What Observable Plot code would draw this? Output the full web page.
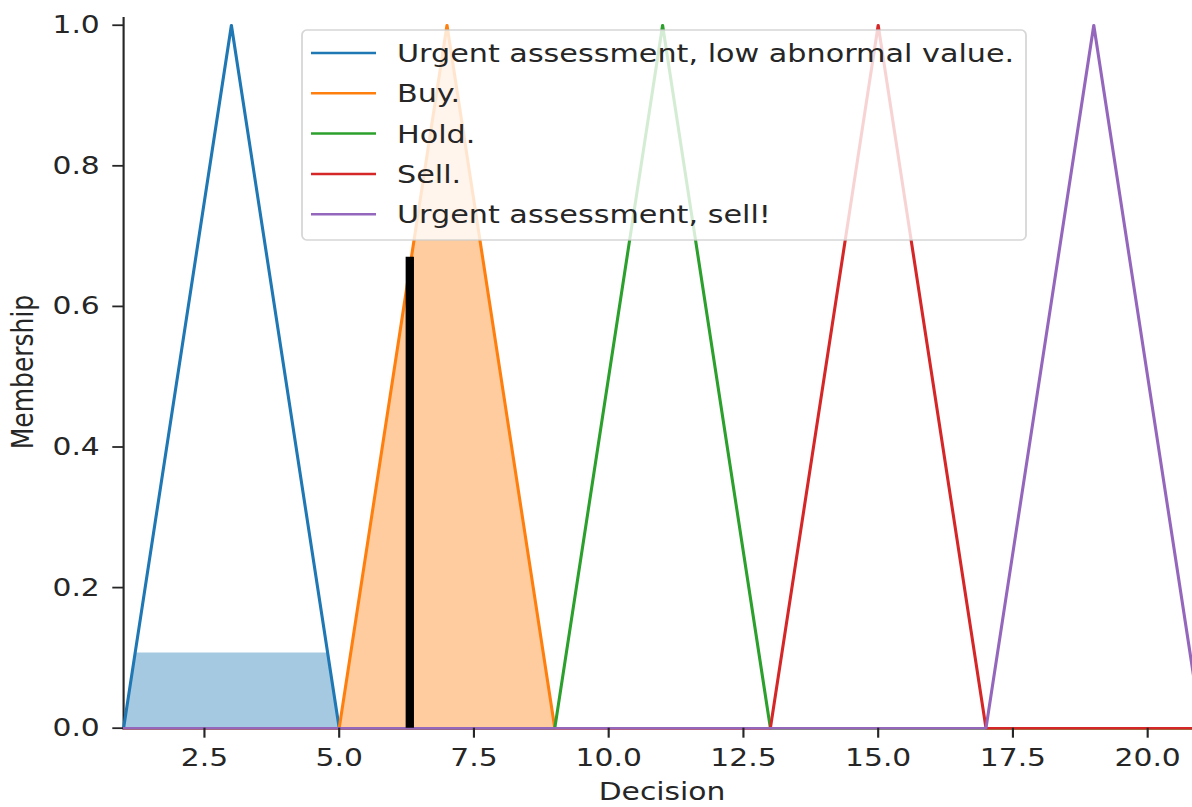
<!DOCTYPE html>
<html>
<head>
<meta charset="utf-8">
<script src="https://cdn.jsdelivr.net/npm/d3@7"></script>
<script src="https://cdn.jsdelivr.net/npm/@observablehq/plot@0.6"></script>
<style>
  html, body { margin: 0; padding: 0; background: white; overflow: hidden; }
  #wrap { position: relative; height: 807px; transform-origin: 0 0; }
  #wrap svg { display: block; }
  .overlay { position: absolute; left: 0; top: 0; pointer-events: none; }
</style>
</head>
<body>
<div id="wrap"></div>
<script>
// ---- data ----
const termNames = [
  "Urgent assessment, low abnormal value.",
  "Buy.",
  "Hold.",
  "Sell.",
  "Urgent assessment, sell!"
];
const termColors = ["#1f77b4", "#ff7f0e", "#2ca02c", "#d62728", "#9467bd"];
const termVertX = [
  [1, 3, 5, 21],
  [1, 5, 7, 9, 21],
  [1, 9, 11, 13, 21],
  [1, 13, 15, 17, 21],
  [1, 17, 19, 21]
];
const termVertY = [
  [0, 1, 0, 0],
  [0, 0, 1, 0, 0],
  [0, 0, 1, 0, 0],
  [0, 0, 1, 0, 0],
  [0, 0, 1, 0]
];
// activated (clipped) regions
const blueFillX = [1, 1.214, 4.786, 5];
const blueFillY = [0, 0.107, 0.107, 0];
const orangeFillX = [5, 7, 9];
const orangeFillY = [0, 1, 0];
// defuzzified crisp output
const crispX = [6.31];
const crispY = [0.67];

const xTicks = [2.5, 5, 7.5, 10, 12.5, 15, 17.5, 20];
const yTicks = [0, 0.2, 0.4, 0.6, 0.8, 1.0];
const xDomain = [1, 21];
const yDomain = [0, 1.011];

// ---- layout ----
const SX = 1.19;               // horizontal stretch of the reference picture
const W = 1192 / SX;
const H = 807;
const left = 123 / SX;
const unit = 53.9 / SX;

const lineData = termNames.flatMap((name, i) =>
  termVertX[i].map((x, j) => ({term: name, x, y: termVertY[i][j]})));
const blueFill = blueFillX.map((x, i) => ({x, y: blueFillY[i]}));
const orangeFill = orangeFillX.map((x, i) => ({x, y: orangeFillY[i]}));
const crisp = crispX.map((x, i) => ({x, y: crispY[i]}));

const ink = "#262626";
const chart = Plot.plot({
  width: W,
  height: H,
  marginLeft: left,
  marginRight: 0,
  marginTop: 17,
  marginBottom: 79.3,
  style: {fontFamily: "DejaVu Sans", fontSize: "25px", color: ink, background: "white"},
  x: {domain: xDomain, range: [left, left + unit * (xDomain[1] - xDomain[0])]},
  y: {domain: yDomain},
  color: {domain: termNames, range: termColors},
  marks: [
    Plot.areaY(blueFill, {x: "x", y: "y", fill: termColors[0], fillOpacity: 0.4}),
    Plot.areaY(orangeFill, {x: "x", y: "y", fill: termColors[1], fillOpacity: 0.4}),
    Plot.ruleX([xDomain[0]], {y1: yDomain[0], y2: yDomain[1], stroke: ink, strokeWidth: 1.8}),
    Plot.ruleY([yDomain[0]], {x1: xDomain[0], x2: xDomain[1], stroke: ink, strokeWidth: 1.8}),
    Plot.line(lineData, {x: "x", y: "y", z: "term", stroke: "term", strokeWidth: 2.6}),
    Plot.ruleX(crisp, {x: "x", y1: 0, y2: "y", stroke: "black", strokeWidth: 7}),
    Plot.axisX({ticks: xTicks, tickFormat: d3.format(".1f"), tickSize: 10, tickPadding: 10,
                fontSize: 25, label: null, stroke: ink, strokeWidth: 1.8, fill: ink}),
    Plot.axisY({ticks: yTicks, tickFormat: d3.format(".1f"), tickSize: 9, tickPadding: 11,
                fontSize: 25, label: null, stroke: ink, strokeWidth: 1.8, fill: ink})
  ]
});

const wrap = document.getElementById("wrap");
wrap.style.width = W + "px";
wrap.style.transform = `scaleX(${SX})`;
wrap.appendChild(chart);

// ---- overlay: axis titles and legend ----
const ov = d3.select(wrap).append("svg")
  .attr("class", "overlay")
  .attr("width", W).attr("height", H)
  .style("font-family", "DejaVu Sans");

ov.append("text")
  .attr("x", 662 / SX).attr("y", 800)
  .attr("text-anchor", "middle")
  .attr("font-size", 25).attr("fill", ink)
  .text("Decision");

ov.append("text")
  .attr("transform", `translate(28, 372) rotate(-90)`)
  .attr("text-anchor", "middle")
  .attr("font-size", 25).attr("fill", ink)
  .text("Membership");

const lgX = 302 / SX, lgY = 30, lgW = (1026 - 302) / SX, lgH = 210;
const lg = ov.append("g");
lg.append("rect")
  .attr("x", lgX).attr("y", lgY).attr("width", lgW).attr("height", lgH)
  .attr("rx", 4).attr("ry", 5)
  .attr("fill", "white").attr("fill-opacity", 0.8)
  .attr("stroke", "#cccccc").attr("stroke-opacity", 0.8).attr("stroke-width", 1.5);
termNames.forEach((name, i) => {
  const cy = 53 + i * 40.3;
  lg.append("line")
    .attr("x1", 311 / SX).attr("x2", 376 / SX)
    .attr("y1", cy).attr("y2", cy)
    .attr("stroke", termColors[i]).attr("stroke-width", 2.5);
  lg.append("text")
    .attr("x", 397 / SX).attr("y", cy)
    .attr("dy", "0.36em")
    .attr("font-size", 25.4).attr("fill", ink)
    .text(name);
});
</script>
</body>
</html>
